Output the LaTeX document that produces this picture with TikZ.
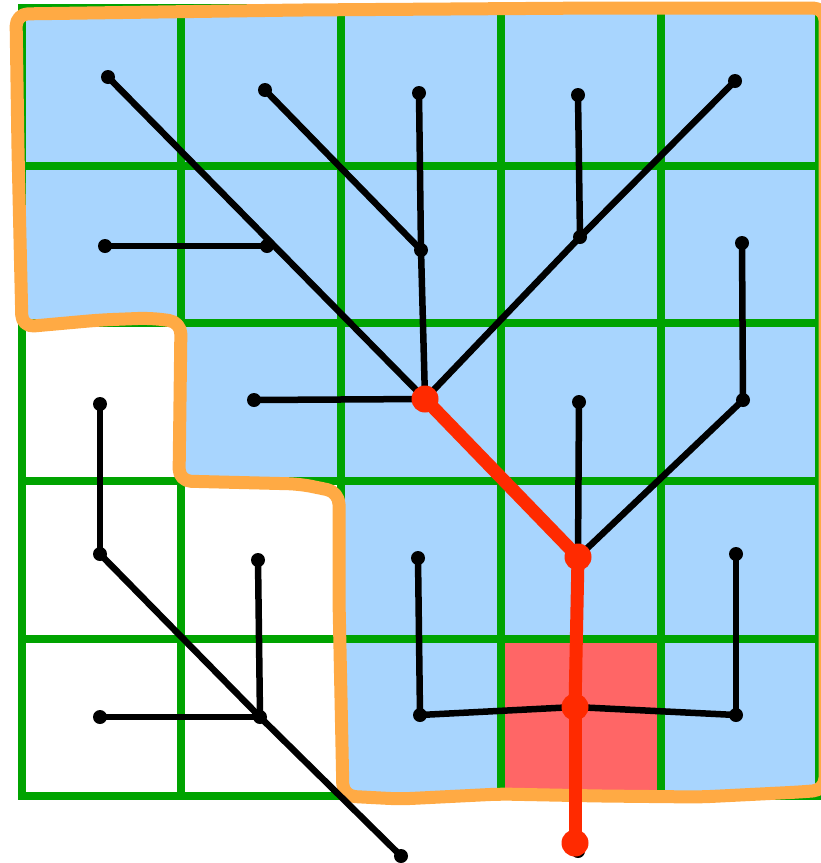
\documentclass[tikz,border=0pt]{standalone}
\definecolor{cellblue}{HTML}{A8D5FE}
\definecolor{cellred}{HTML}{FF6666}
\definecolor{gridgreen}{HTML}{00A300}
\definecolor{redline}{HTML}{FF2A00}
\definecolor{orangeline}{HTML}{FFAA44}
\begin{document}
\begin{tikzpicture}[x=1pt,y=-1pt,
  dot/.style={circle,fill=black,inner sep=0pt,minimum size=14pt},
  rdot/.style={circle,fill=redline,inner sep=0pt,minimum size=27pt},
  edge/.style={line width=6.5pt,black},
  redge/.style={line width=13pt,redline},
  gridline/.style={line width=8pt,gridgreen},
  outline/.style={line width=13pt,orangeline,rounded corners=12pt,line join=round}]
\useasboundingbox (0,0) rectangle (821,863);
% fills
\fill[cellblue] (22,8) -- (819,8) -- (819,796) -- (341,796) -- (341,481) -- (181,481) -- (181,323) -- (22,323) -- cycle;
\fill[cellred] (501,639) rectangle (661,796);
% grid
\foreach \x in {22,181,341,501,661,819} \draw[gridline] (\x,8) -- (\x,796);
\foreach \y in {8,166,323,481,639,796} \draw[gridline] (18,\y) -- (823,\y);
% orange outline
\draw[outline] (16,14) -- (300,10) -- (600,8) -- (825,8) -- (825,790) -- (800,792) -- (700,797) -- (600,796) -- (500,794) -- (400,799) -- (343,796) -- (339,600) -- (339,492) -- (300,484) -- (179,481) -- (181,322) -- (150,318) -- (100,320) -- (22,327) -- (18,150) -- cycle;
% coordinates
\coordinate (a1) at (108,77);
\coordinate (b1) at (265,90);
\coordinate (c1) at (419,93);
\coordinate (d1) at (578,95);
\coordinate (e1) at (735,81);
\coordinate (f1) at (105,246);
\coordinate (f2) at (267,246);
\coordinate (bc) at (421,250);
\coordinate (de) at (580,237);
\coordinate (g1) at (742,243);
\coordinate (h1) at (254,400);
\coordinate (r1) at (425,399);
\coordinate (i1) at (579,402);
\coordinate (g2) at (743,400);
\coordinate (l1) at (100,404);
\coordinate (l2) at (100,554);
\coordinate (m1) at (258,560);
\coordinate (j1) at (418,558);
\coordinate (r2) at (578,557);
\coordinate (k1) at (736,554);
\coordinate (n1) at (100,717);
\coordinate (lm) at (260,717);
\coordinate (j2) at (420,715);
\coordinate (r3) at (575,707);
\coordinate (k2) at (736,715);
\coordinate (end1) at (401,856);
\coordinate (bot) at (578,851);
\coordinate (r4) at (575,843);
% black edges
\draw[edge] (a1) -- (r1);
\draw[edge] (b1) -- (bc);
\draw[edge] (c1) -- (bc);
\draw[edge] (bc) -- (r1);
\draw[edge] (d1) -- (de);
\draw[edge] (e1) -- (de);
\draw[edge] (de) -- (r1);
\draw[edge] (f1) -- (f2);
\draw[edge] (g1) -- (g2);
\draw[edge] (g2) -- (r2);
\draw[edge] (h1) -- (r1);
\draw[edge] (i1) -- (r2);
\draw[edge] (j1) -- (j2);
\draw[edge] (j2) -- (r3);
\draw[edge] (r3) -- (k2);
\draw[edge] (k1) -- (k2);
\draw[edge] (r2) -- (r3);
\draw[edge] (r3) -- (bot);
\draw[edge] (l1) -- (l2);
\draw[edge] (l2) -- (lm);
\draw[edge] (lm) -- (end1);
\draw[edge] (m1) -- (lm);
\draw[edge] (n1) -- (lm);
% black dots
\foreach \p in {a1,b1,c1,d1,e1,f1,f2,bc,de,g1,h1,i1,g2,l1,l2,m1,j1,k1,n1,lm,j2,k2,end1,bot}
  \node[dot] at (\p) {};
% red path
\draw[redge] (r1) -- (r2);
\draw[redge] (r2) -- (r3);
\draw[redge] (r3) -- (r4);
\foreach \p in {r1,r2,r3,r4}
  \node[rdot] at (\p) {};
\end{tikzpicture}
\end{document}
